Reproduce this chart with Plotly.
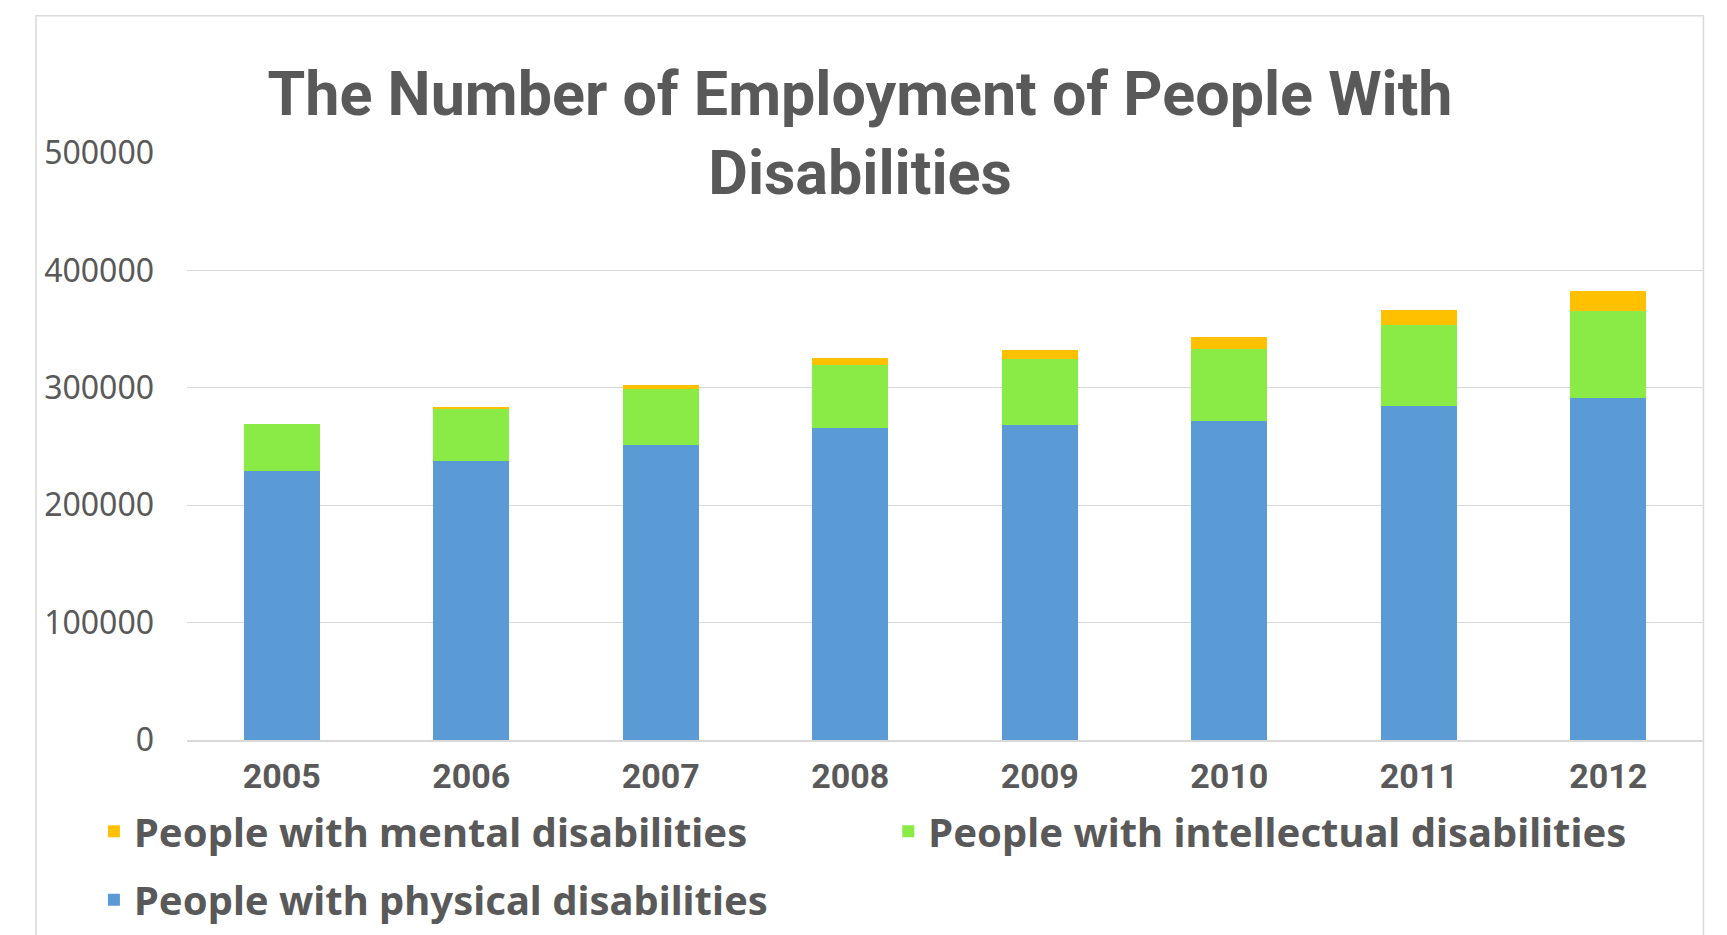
import plotly.graph_objects as go

years = ["2005", "2006", "2007", "2008", "2009", "2010", "2011", "2012"]
physical = [229000, 238000, 251000, 265700, 268000, 271800, 284400, 291000]
intellectual = [40300, 43800, 48000, 54000, 56800, 61000, 68700, 74700]
mental = [0, 2000, 3700, 6000, 7700, 10300, 13000, 16600]

y_ticks = [0, 100000, 200000, 300000, 400000, 500000]

name_physical = "People with physical disabilities"
name_intellectual = "People with intellectual disabilities"
name_mental = "People with mental disabilities"

col_physical = "#5B9BD5"
col_intellectual = "#8AEB46"
col_mental = "#FFC000"

TXT = "#595959"
GRID = "#D9D9D9"
NARROW = "Roboto, Liberation Sans Narrow, sans-serif"
LEG_FONT = dict(family="Noto Sans, Open Sans, sans-serif", size=40, color=TXT, weight="bold")

fig = go.Figure()
fig.add_trace(go.Bar(x=years, y=physical, name=name_physical,
                     marker=dict(color=col_physical, line=dict(width=0)), legend="legend3"))
fig.add_trace(go.Bar(x=years, y=intellectual, name=name_intellectual,
                     marker=dict(color=col_intellectual, line=dict(width=0)), legend="legend2"))
fig.add_trace(go.Bar(x=years, y=mental, name=name_mental,
                     marker=dict(color=col_mental, line=dict(width=0)), legend="legend"))

leg_common = dict(orientation="v", xanchor="left", yanchor="middle",
                  bgcolor="rgba(0,0,0,0)", borderwidth=0, font=LEG_FONT)

fig.update_layout(
    width=1727, height=935,
    barmode="stack", bargap=0.6,
    plot_bgcolor="white", paper_bgcolor="white",
    margin=dict(l=187, r=24, t=153, b=195, autoexpand=False),
    title=dict(text="The Number of Employment of People With<br>Disabilities",
               x=0.498, xanchor="center", xref="container",
               y=1 - 115 / 935, yanchor="top", yref="container",
               font=dict(family=NARROW, size=61, color=TXT, weight="bold")),
    xaxis=dict(showline=True, linecolor=GRID, linewidth=1.5, showgrid=False,
               ticks="", ticklabelstandoff=5,
               tickfont=dict(family=NARROW, size=34, color=TXT, weight="bold")),
    yaxis=dict(range=[0, 500000], tickvals=y_ticks, tickformat="d",
               showgrid=True, gridcolor=GRID, gridwidth=1.3, zeroline=False,
               showline=False, ticks="", ticklabelstandoff=32,
               tickfont=dict(family="Noto Sans, Liberation Sans, sans-serif", size=32, color=TXT)),
    legend=dict(x=-0.0614, y=-0.1556, **leg_common),
    legend2=dict(x=0.4626, y=-0.1556, **leg_common),
    legend3=dict(x=-0.0614, y=-0.272, **leg_common),
    shapes=[dict(type="rect", xref="paper", yref="paper",
                 x0=-0.0996, x1=1.0003, y0=-0.45, y1=1.234,
                 line=dict(color=GRID, width=1.5), fillcolor="rgba(0,0,0,0)", layer="below")],
    showlegend=True,
)

fig.write_html("out.html", config={"displayModeBar": False},
               post_script="document.body.style.margin='0';document.body.style.overflow='hidden';")
